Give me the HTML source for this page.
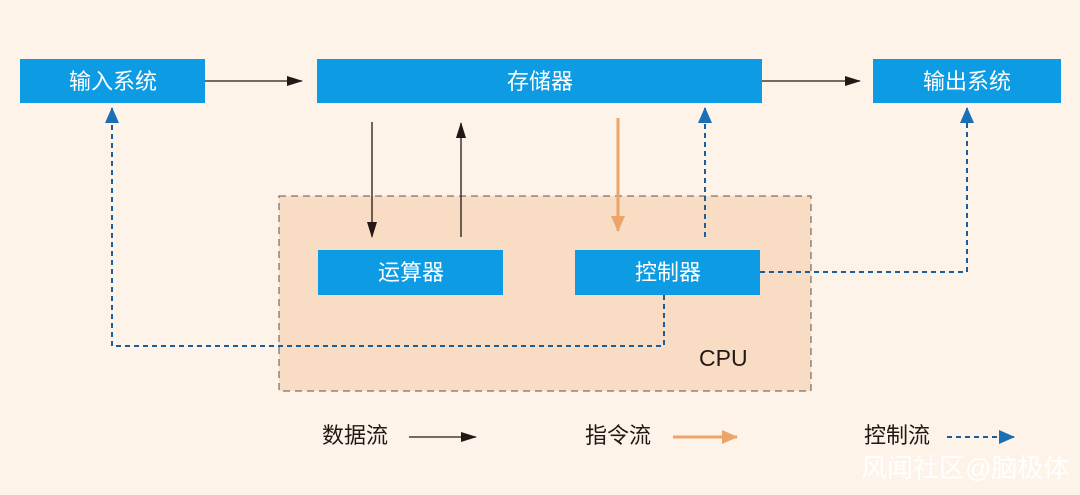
<!DOCTYPE html>
<html><head><meta charset="utf-8"><style>
html,body{margin:0;padding:0}
body{width:1080px;height:495px;background:#fdf3e8;overflow:hidden;font-family:"Liberation Sans","Noto Sans CJK SC",sans-serif}
</style></head><body>
<svg width="1080" height="495" xmlns="http://www.w3.org/2000/svg" style="position:absolute;left:0;top:0">
<defs>
<marker id="ab2" markerWidth="16" markerHeight="10" refX="15" refY="5" orient="auto" markerUnits="userSpaceOnUse"><path d="M0,0L16,5L0,10z" fill="#231815"/></marker>
<marker id="ao" markerWidth="16" markerHeight="14" refX="15" refY="7" orient="auto" markerUnits="userSpaceOnUse"><path d="M0,0L16,7L0,14z" fill="#eda46a"/></marker>
<marker id="bl" markerWidth="16" markerHeight="14" refX="15" refY="7" orient="auto" markerUnits="userSpaceOnUse"><path d="M0,0L16,7L0,14z" fill="#1b6fb5"/></marker>
</defs>
<rect x="279" y="196" width="532" height="195" fill="#f8dcc3" stroke="#555" stroke-width="1" stroke-dasharray="7,5"/>
<rect x="20" y="59" width="185" height="44" fill="#0d9be3"/>
<rect x="317" y="59" width="445" height="44" fill="#0d9be3"/>
<rect x="873" y="59" width="188" height="44" fill="#0d9be3"/>
<rect x="318" y="250" width="185" height="45" fill="#0d9be3"/>
<rect x="575" y="250" width="185" height="45" fill="#0d9be3"/>
<g fill="#fff" font-size="22" text-anchor="middle">
<text x="113" y="89">输入系统</text>
<text x="540" y="89">存储器</text>
<text x="967" y="89">输出系统</text>
<text x="411" y="280">运算器</text>
<text x="668" y="280">控制器</text>
</g>
<g stroke="#231815" stroke-width="1.3" fill="none">
<line x1="205" y1="81" x2="302" y2="81" marker-end="url(#ab2)"/>
<line x1="762" y1="81" x2="860" y2="81" marker-end="url(#ab2)"/>
<line x1="372" y1="122" x2="372" y2="237" marker-end="url(#ab2)"/>
<line x1="461" y1="237" x2="461" y2="123" marker-end="url(#ab2)"/>
</g>
<line x1="618" y1="118" x2="618" y2="231" stroke="#eda46a" stroke-width="3" marker-end="url(#ao)"/>
<g stroke="#1b5f9a" stroke-width="2" fill="none" stroke-dasharray="5,4">
<line x1="705" y1="237" x2="705" y2="108" marker-end="url(#bl)"/>
<polyline points="760,272 967,272 967,108" marker-end="url(#bl)"/>
<polyline points="664,295 664,346 112,346 112,108" marker-end="url(#bl)"/>
</g>
<text x="699" y="366" font-size="23" fill="#231815">CPU</text>
<g font-size="22" fill="#231815">
<text x="322" y="443">数据流</text>
<text x="585" y="443">指令流</text>
<text x="864" y="443">控制流</text>
</g>
<line x1="409" y1="437" x2="476" y2="437" stroke="#231815" stroke-width="1.3" marker-end="url(#ab2)"/>
<line x1="673" y1="437" x2="737" y2="437" stroke="#eda46a" stroke-width="3" marker-end="url(#ao)"/>
<line x1="947" y1="437" x2="1014" y2="437" stroke="#1b5f9a" stroke-width="2" stroke-dasharray="5,4" marker-end="url(#bl)"/>
<text x="861" y="477" font-size="26" fill="#ffffff">风闻社区@脑极体</text>
</svg>
</body></html>
